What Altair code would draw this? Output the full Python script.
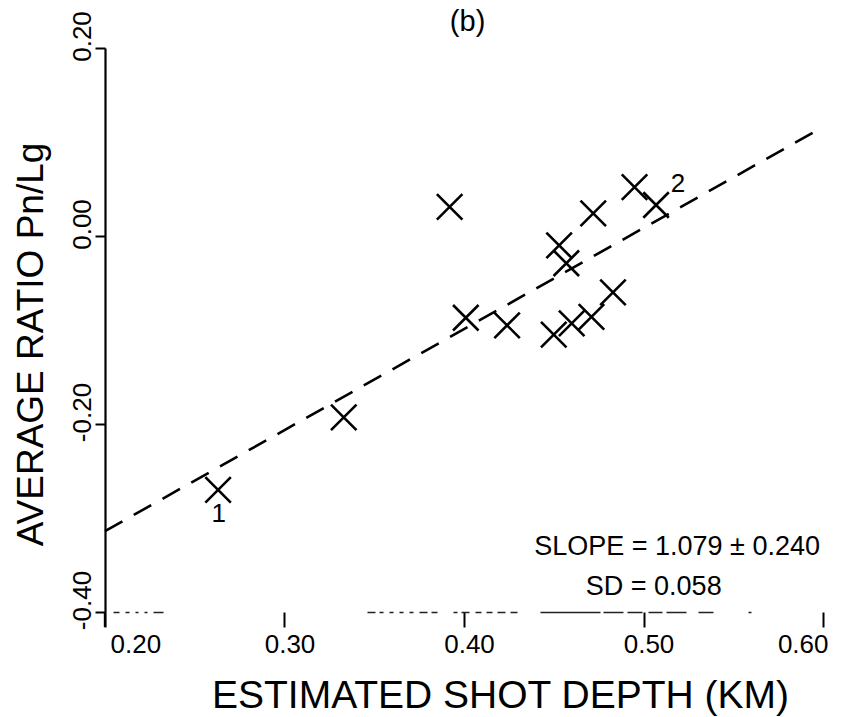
import altair as alt
import pandas as pd

# ---- data ----
depth = [0.263, 0.333, 0.392, 0.401, 0.424, 0.450, 0.453, 0.457, 0.460, 0.471, 0.472, 0.483, 0.495, 0.507]
ratio = [-0.270, -0.193, 0.031, -0.087, -0.095, -0.105, -0.010, -0.029, -0.093, -0.086, 0.024, -0.060, 0.052, 0.033]

fit_x = [0.20, 0.60]
fit_y = [-0.314, 0.116]

pt_labels = ["1", "2"]
pt_label_x = [0.2634, 0.5192]
pt_label_y = [-0.304, 0.047]

notes = ["SLOPE = 1.079 \u00b1 0.240", "SD = 0.058"]
note_x = [0.5187, 0.5057]
note_y = [-0.339, -0.382]

panel = ["(b)"]
panel_x = [0.402]
panel_y = [0.218]

x_ticks = [0.20, 0.30, 0.40, 0.50, 0.60]
y_ticks = [-0.40, -0.20, 0.00, 0.20]

FONT = "Liberation Sans"

pts = pd.DataFrame({"depth": depth, "ratio": ratio})
fit = pd.DataFrame({"depth": fit_x, "ratio": fit_y})
lab = pd.DataFrame({"depth": pt_label_x, "ratio": pt_label_y, "t": pt_labels})
nts = pd.DataFrame({"depth": note_x, "ratio": note_y, "t": notes})
pnl = pd.DataFrame({"depth": panel_x, "ratio": panel_y, "t": panel})

xscale = alt.Scale(domain=[0.2, 0.6], nice=False, zero=False)
yscale = alt.Scale(domain=[-0.4, 0.2], nice=False, zero=False)

x_dash = [0, 8, 6, 6, 4, 6, 3, 6, 3, 6, 10, 204, 8, 4, 4, 6, 4, 6, 4, 6, 4, 6, 8, 4, 6, 16,
          4, 4, 8, 6, 6, 5, 6, 5, 8, 5, 7, 23, 60, 3, 20, 4, 15, 6, 14, 4, 20, 12, 15, 35, 3, 200]

xaxis = alt.Axis(
    values=x_ticks, format=".2f", title="ESTIMATED SHOT DEPTH (KM)",
    grid=False, domainColor="#222", domainWidth=1.6, domainDash=x_dash,
    tickColor="black", tickWidth=2, tickSize=15,
    labelBaseline="alphabetic", labelPadding=25, labelOffset=5,
    labelFont=FONT, labelFontSize=26, labelColor="black",
    titleFont=FONT, titleFontSize=39, titleFontWeight="normal", titleColor="black",
    titleX=395, titleY=95, titleAlign="center", titleBaseline="alphabetic",
)
yaxis = alt.Axis(
    values=y_ticks, title="AVERAGE RATIO Pn/Lg",
    labelExpr="replace(format(datum.value, '.2f'), '\u2212', '-')",
    grid=False, domainColor="black", domainWidth=2.2,
    tickColor="black", tickWidth=2, tickSize=10, labelPadding=5,
    labelAngle=-90, labelAlign="center", labelBaseline="alphabetic", labelOffset=-12,
    labelFont=FONT, labelFontSize=26, labelColor="black",
    titleFont=FONT, titleFontSize=37, titleFontWeight="normal", titleColor="black",
    titleAngle=-90, titleX=-63, titleY=296, titleAlign="center", titleBaseline="alphabetic",
)

line = alt.Chart(fit).mark_line(color="black", strokeWidth=2.6, strokeDash=[20, 13]).encode(
    x=alt.X("depth:Q", scale=xscale, axis=xaxis),
    y=alt.Y("ratio:Q", scale=yscale, axis=yaxis),
)

# small extension of the y axis line below the lowest tick
axis_ext = alt.Chart(fit).mark_rule(color="black", strokeWidth=2.2).encode(
    x=alt.value(0), y=alt.value(564), y2=alt.value(579)
)

xmark = alt.Chart(pts).mark_point(
    shape="M-1,-1L1,1M-1,1L1,-1", filled=False, color="black", strokeWidth=2.6,
    size=650, opacity=1,
).encode(x=alt.X("depth:Q", scale=xscale), y=alt.Y("ratio:Q", scale=yscale))

ptxt = alt.Chart(lab).mark_text(font=FONT, fontSize=26, color="black", baseline="alphabetic").encode(
    x=alt.X("depth:Q", scale=xscale), y=alt.Y("ratio:Q", scale=yscale), text="t:N"
)

ntxt = alt.Chart(nts).mark_text(font=FONT, fontSize=27, color="black", baseline="alphabetic").encode(
    x=alt.X("depth:Q", scale=xscale), y=alt.Y("ratio:Q", scale=yscale), text="t:N"
)

ptitle = alt.Chart(pnl).mark_text(font=FONT, fontSize=29, color="black", baseline="alphabetic").encode(
    x=alt.X("depth:Q", scale=xscale), y=alt.Y("ratio:Q", scale=yscale), text="t:N"
)

chart = (
    alt.layer(line, axis_ext, xmark, ptxt, ntxt, ptitle)
    .properties(
        width=718, height=564,
        autosize=alt.AutoSizeParams(type="none"),
        padding={"left": 105, "top": 48, "right": 40, "bottom": 105},
        background="white",
    )
    .configure_view(stroke=None)
)

chart.save("out.html", embed_options={"renderer": "svg", "actions": False})
